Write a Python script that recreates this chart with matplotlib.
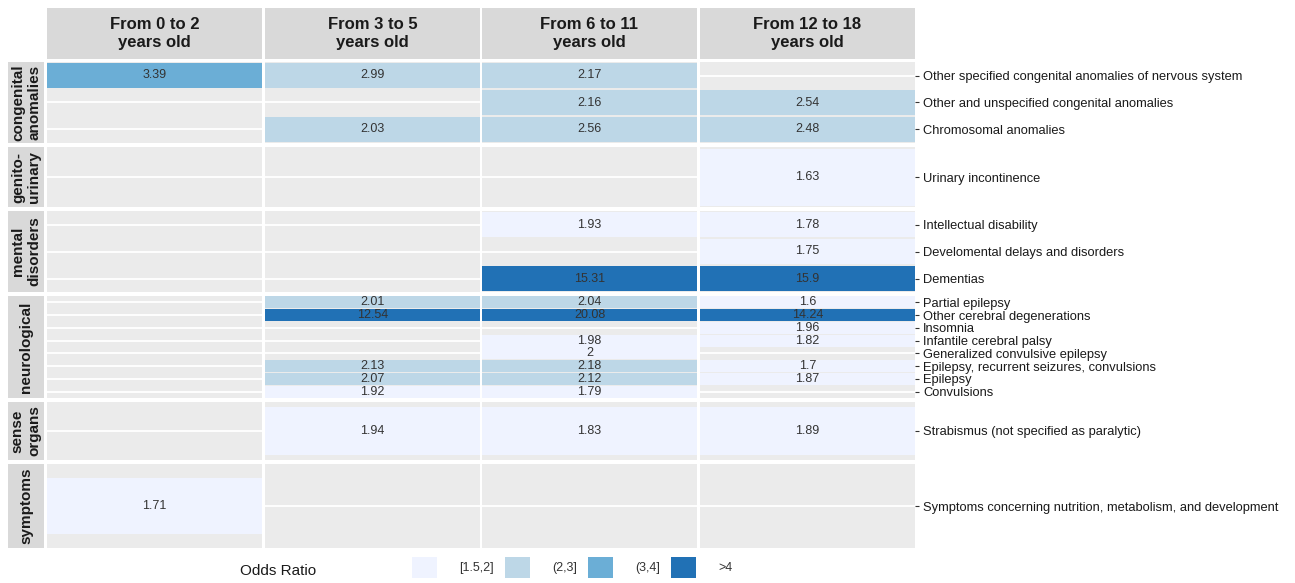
import matplotlib.pyplot as plt
import numpy as np
from matplotlib.patches import Patch

plt.rcParams['font.family'] = ['Liberation Sans', 'DejaVu Sans']

nan = np.nan

age_groups = ['From 0 to 2\nyears old', 'From 3 to 5\nyears old',
              'From 6 to 11\nyears old', 'From 12 to 18\nyears old']

groups = ['congenital\nanomalies', 'genito-\nurinary', 'mental\ndisorders',
          'neurological', 'sense\norgans', 'symptoms']

diag_congenital = ['Other specified congenital anomalies of nervous system',
                   'Other and unspecified congenital anomalies',
                   'Chromosomal anomalies']
diag_genito = ['Urinary incontinence']
diag_mental = ['Intellectual disability',
               'Develomental delays and disorders',
               'Dementias']
diag_neuro = ['Partial epilepsy',
              'Other cerebral degenerations',
              'Insomnia',
              'Infantile cerebral palsy',
              'Generalized convulsive epilepsy',
              'Epilepsy, recurrent seizures, convulsions',
              'Epilepsy',
              'Convulsions']
diag_sense = ['Strabismus (not specified as paralytic)']
diag_symptoms = ['Symptoms concerning nutrition, metabolism, and development']

# odds ratios, one row per diagnosis, one column per age group
or_congenital = [[3.39, 2.99, 2.17, nan],
                 [nan, nan, 2.16, 2.54],
                 [nan, 2.03, 2.56, 2.48]]
or_genito = [[nan, nan, nan, 1.63]]
or_mental = [[nan, nan, 1.93, 1.78],
             [nan, nan, nan, 1.75],
             [nan, nan, 15.31, 15.9]]
or_neuro = [[nan, 2.01, 2.04, 1.6],
            [nan, 12.54, 20.08, 14.24],
            [nan, nan, nan, 1.96],
            [nan, nan, 1.98, 1.82],
            [nan, nan, 2, nan],
            [nan, 2.13, 2.18, 1.7],
            [nan, 2.07, 2.12, 1.87],
            [nan, 1.92, 1.79, nan]]
or_sense = [[nan, 1.94, 1.83, 1.89]]
or_symptoms = [[1.71, nan, nan, nan]]

bin_labels = ['[1.5,2]', '(2,3]', '(3,4]', '>4']
bin_edges = [2, 3, 4]
bin_colors = ['#EFF3FF', '#BDD7E7', '#6BAED6', '#2171B5']

diagnoses = [diag_congenital, diag_genito, diag_mental, diag_neuro, diag_sense, diag_symptoms]
odds = [or_congenital, or_genito, or_mental, or_neuro, or_sense, or_symptoms]

# layout (pixels of the 1295x583 canvas)
W, H = 1295, 583
col_left = [47, 265, 482, 700]
col_w = 215
panel_rows = [(62, 143), (147, 207), (211, 292), (296, 398), (402, 460), (464, 548)]
tile_h = [0.92, 0.95, 0.9, 0.95, 0.82, 0.67]


def px_box(left, top, right, bottom):
    return [left / W, 1 - bottom / H, (right - left) / W, (bottom - top) / H]


def color_for(v):
    return bin_colors[np.searchsorted(bin_edges, v, side='left')]


def strip_axes(box, label, rot, size):
    sax = fig.add_axes(box)
    sax.set_facecolor('#D9D9D9')
    sax.set_xticks([])
    sax.set_yticks([])
    for s in sax.spines.values():
        s.set_visible(False)
    sax.text(0.5, 0.5, label, ha='center', va='center', rotation=rot, fontsize=size,
             fontweight='bold', color='#1A1A1A', linespacing=1.2, transform=sax.transAxes)
    return sax


fig = plt.figure(figsize=(W / 100, H / 100), dpi=100)

# column strips
for j, lab in enumerate(age_groups):
    strip_axes(px_box(col_left[j], 8, col_left[j] + col_w, 59), lab, 0, 12)

for i, (grp, top_bot) in enumerate(zip(groups, panel_rows)):
    top, bot = top_bot
    n = len(diagnoses[i])
    vals = np.array(odds[i], dtype=float)

    # row strip on the left
    strip_axes(px_box(8, top, 44, bot), grp, 90, 11)

    for j in range(4):
        ax = fig.add_axes(px_box(col_left[j], top, col_left[j] + col_w, bot))
        ax.set_facecolor('#EBEBEB')
        rows = np.arange(n)
        for r in rows:
            ax.axhline(r, color='white', lw=1.3, zorder=1)
        col = vals[:, j]
        ok = ~np.isnan(col)
        ax.barh(rows[ok], 1.0, left=-0.5, height=tile_h[i],
                color=[color_for(v) for v in col[ok]], zorder=2)
        for r, v in zip(rows[ok], col[ok]):
            ax.text(0, r, f'{v:g}', ha='center', va='center', fontsize=9,
                    color='#333333', zorder=3)
        ax.set_xlim(-0.5, 0.5)
        ax.set_ylim(n - 0.5, -0.5)
        ax.set_xticks([])
        for s in ax.spines.values():
            s.set_visible(False)
        if j == 3:
            ax.yaxis.tick_right()
            ax.set_yticks(rows)
            ax.set_yticklabels(diagnoses[i])
            ax.tick_params(axis='y', length=3, width=0.8, color='#333333',
                           labelsize=9.3, labelcolor='#1A1A1A', pad=3)
        else:
            ax.set_yticks([])

# legend at the bottom
fig.text(240 / W, 1 - 571 / H, 'Odds Ratio', fontsize=11, color='#1A1A1A', va='center')
handles = [Patch(facecolor=c, edgecolor='none', label=l) for c, l in zip(bin_colors, bin_labels)]
fig.legend(handles=handles, loc='upper left', bbox_to_anchor=(412 / W, 1 - 557 / H),
           ncol=4, frameon=False, fontsize=9, handlelength=2.0, handleheight=2.2,
           handletextpad=1.8, columnspacing=0.85, borderpad=0, borderaxespad=0,
           labelcolor='#333333')

plt.savefig('out.png', dpi=100, facecolor='w')
plt.close()
